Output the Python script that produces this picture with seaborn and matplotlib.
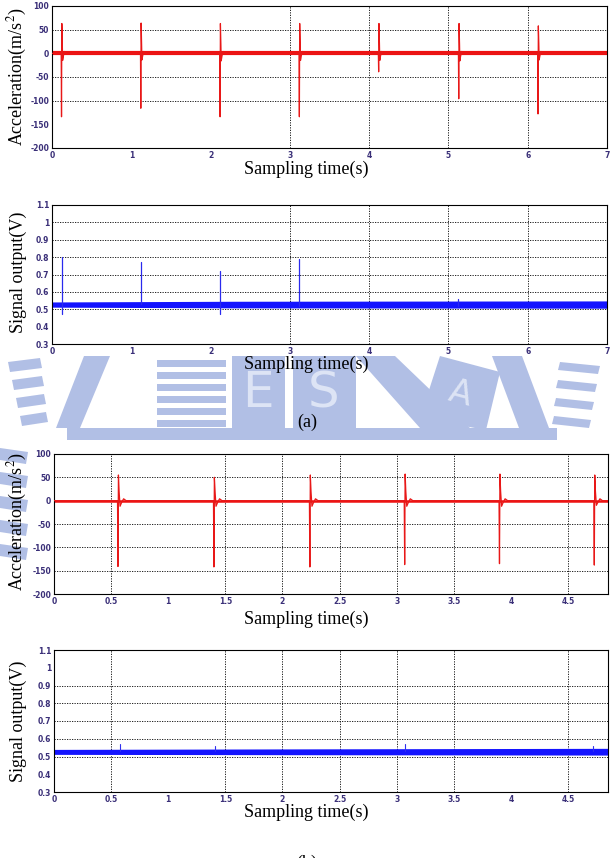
import numpy as np
import pandas as pd
import matplotlib
matplotlib.use("Agg")
import matplotlib.pyplot as plt
import seaborn as sns
from matplotlib.patches import Polygon

sns.set_theme(style="white")
plt.rcParams["font.family"] = ["Liberation Serif", "DejaVu Serif"]
plt.rcParams["mathtext.fontset"] = "stix"

# ---------------- data ----------------
# (a) acceleration: impact times (s), positive / negative peaks, after-dip (m/s^2)
acc_a_times = [0.12, 1.12, 2.12, 3.12, 4.12, 5.13, 6.13]
acc_a_pos = [63, 64, 63, 63, 63, 63, 58]
acc_a_neg = [-134, -116, -134, -134, -39, -96, -128]
acc_a_dip = [-15, -14, -16, -15, -15, -16, -14]

# (a) signal output: spike times, peaks and dips (V), noise band limits
sig_a_times = [0.12, 1.12, 2.12, 3.12, 5.12]
sig_a_peak = [0.80, 0.77, 0.72, 0.79, 0.56]
sig_a_dip = [0.475, 0.53, 0.475, 0.52, 0.52]
sig_a_band_t = [0.0, 2.3, 7.0]
sig_a_band_lo = [0.512, 0.508, 0.506]
sig_a_band_hi = [0.542, 0.546, 0.548]

# (b) acceleration
acc_b_times = [0.56, 1.40, 2.24, 3.07, 3.90, 4.73]
acc_b_pos = [55, 50, 55, 57, 57, 55]
acc_b_neg = [-141, -142, -142, -137, -135, -138]
acc_b_dip = [-12, -12, -12, -12, -12, -10]

# (b) signal output
sig_b_times = [0.58, 1.41, 3.07, 4.72]
sig_b_peak = [0.57, 0.56, 0.57, 0.56]
sig_b_band_t = [0.0, 2.2, 4.85]
sig_b_band_lo = [0.512, 0.510, 0.508]
sig_b_band_hi = [0.540, 0.543, 0.546]

# axis ticks
xticks_a = [0, 1, 2, 3, 4, 5, 6, 7]
xticks_b = [0, 0.5, 1, 1.5, 2, 2.5, 3, 3.5, 4, 4.5]
yticks_acc = [100, 50, 0, -50, -100, -150, -200]
yticks_sig = [1.1, 1.0, 0.9, 0.8, 0.7, 0.6, 0.5, 0.4, 0.3]
xlim_a = (0, 7)
xlim_b = (0, 4.85)

# ---------------- figure ----------------
W, H = 615, 858
fig = plt.figure(figsize=(W / 100, H / 100), dpi=100)
fig.patch.set_facecolor("white")

wm = "#b1bfe5"


def px(x, y):
    return (x / W, 1 - y / H)


def poly(pts, color=wm, z=0):
    fig.patches.append(Polygon([px(x, y) for x, y in pts], closed=True,
                               transform=fig.transFigure, facecolor=color,
                               edgecolor="none", zorder=z))


# faint background watermark (approximate)
poly([(67, 428), (557, 428), (557, 440), (67, 440)])
poly([(84, 356), (110, 356), (80, 428), (56, 428)])
for i in range(4):
    y0 = 362 + i * 18
    poly([(8 + i * 4, y0), (40 + i * 2, y0 - 4), (42 + i * 2, y0 + 6), (10 + i * 4, y0 + 10)])
for i in range(6):
    y0 = 360 + i * 12
    poly([(157, y0), (226, y0), (226, y0 + 7), (157, y0 + 7)])
poly([(232, 356), (285, 356), (285, 428), (232, 428)])
poly([(293, 356), (356, 356), (356, 428), (293, 428)])
poly([(356, 356), (395, 356), (470, 428), (420, 428)])
poly([(440, 356), (500, 372), (486, 430), (420, 418)])
poly([(492, 356), (522, 356), (549, 428), (519, 428)])
for i in range(4):
    y0 = 362 + i * 18
    poly([(560 - i * 2, y0), (600 - i * 3, y0 + 4), (598 - i * 3, y0 + 12), (558 - i * 2, y0 + 8)])
for i in range(5):
    y0 = 448 + i * 24
    poly([(0, y0), (28, y0 + 4), (26, y0 + 16), (0, y0 + 12)])
fig.text(258 / W, 1 - 393 / H, "E", color="#dde4f5", fontsize=36, family="DejaVu Sans",
         ha="center", va="center", zorder=1)
fig.text(324 / W, 1 - 393 / H, "S", color="#dde4f5", fontsize=36, family="DejaVu Sans",
         ha="center", va="center", zorder=1)
fig.text(460 / W, 1 - 394 / H, "A", color="#dde4f5", fontsize=24, family="DejaVu Sans",
         ha="center", va="center", rotation=-15, zorder=1)


def add_ax(left, top, right, bottom):
    ax = fig.add_axes([left / W, 1 - bottom / H, (right - left) / W, (bottom - top) / H])
    ax.set_facecolor("white")
    ax.set_zorder(2)
    return ax


def impact_frame(times, pos, neg, dip, xmax, width):
    t = [0.0]
    v = [0.0]
    for ti, p, n, d in zip(times, pos, neg, dip):
        t += [ti - 0.004, ti, ti + 0.004, ti + 0.010, ti + 0.014 * width,
              ti + 0.025 * width, ti + 0.038 * width, ti + 0.055 * width]
        v += [0.0, n, p, 20.0, d, d * 0.3, 4.0, 0.0]
    t.append(xmax)
    v.append(0.0)
    return pd.DataFrame({"t": t, "v": v})


def spike_frame(times, peak, dip):
    t, v, u = [], [], []
    for k, (ti, p, d) in enumerate(zip(times, peak, dip)):
        t += [ti, ti]
        v += [d, p]
        u += [k, k]
    return pd.DataFrame({"t": t, "v": v, "spike": u})


def style(ax, xticks, yticks, xlim, ylim, xgrid, ygrid):
    ax.set_xlim(*xlim)
    ax.set_ylim(*ylim)
    ax.set_xticks(xticks)
    ax.set_yticks(yticks)
    ax.set_xticklabels([f"{x:g}" for x in xticks])
    ax.set_yticklabels([f"{y:g}" for y in yticks])
    ax.tick_params(axis="both", labelsize=5.5, labelcolor="#3a2f78", direction="in",
                   length=2, width=0.6, color="black", pad=2)
    for lab in ax.get_xticklabels() + ax.get_yticklabels():
        lab.set_family("DejaVu Sans")
        lab.set_weight("bold")
    for s in ax.spines.values():
        s.set_color("black")
        s.set_linewidth(0.8)
    for xv in xgrid:
        ax.axvline(xv, color="black", ls=(0, (1.5, 1.5)), lw=0.6, zorder=0.5)
    for yv in ygrid:
        ax.axhline(yv, color="black", ls=(0, (1.5, 1.5)), lw=0.6, zorder=0.5)
    ax.set_xlabel("")
    ax.set_ylabel("")
    if ax.get_legend() is not None:
        ax.get_legend().remove()


# ---- panel 1: (a) acceleration
ax1 = add_ax(52, 6, 607, 148)
df = impact_frame(acc_a_times, acc_a_pos, acc_a_neg, acc_a_dip, xlim_a[1], 1.0)
sns.lineplot(data=pd.DataFrame({"t": list(xlim_a), "v": [0, 0]}), x="t", y="v",
             color="#ee1111", lw=3.0, ax=ax1, zorder=2)
sns.lineplot(data=df, x="t", y="v", sort=False, estimator=None, color="#e81818",
             lw=0.9, ax=ax1, zorder=3)
style(ax1, xticks_a, yticks_acc, xlim_a, (-200, 100), [3, 4, 5, 6], [50, -50, -100])

# ---- panel 2: (a) signal output
ax2 = add_ax(52, 205, 607, 344)
ax2.fill_between(sig_a_band_t, sig_a_band_lo, sig_a_band_hi, color="#1414ff", lw=0, zorder=2)
sns.lineplot(data=spike_frame(sig_a_times, sig_a_peak, sig_a_dip), x="t", y="v",
             units="spike", estimator=None, sort=False, color="#2a2aee", lw=0.9,
             ax=ax2, zorder=3)
style(ax2, xticks_a, yticks_sig, xlim_a, (0.3, 1.1), [3, 4, 5, 6],
      [1.0, 0.9, 0.8, 0.7, 0.6, 0.5])

# ---- panel 3: (b) acceleration
ax3 = add_ax(54, 454, 608, 594)
df = impact_frame(acc_b_times, acc_b_pos, acc_b_neg, acc_b_dip, xlim_b[1], 1.3)
sns.lineplot(data=pd.DataFrame({"t": list(xlim_b), "v": [0, 0]}), x="t", y="v",
             color="#ee1111", lw=1.8, ax=ax3, zorder=2)
sns.lineplot(data=df, x="t", y="v", sort=False, estimator=None, color="#e81818",
             lw=0.9, ax=ax3, zorder=3)
style(ax3, xticks_b, yticks_acc, xlim_b, (-200, 100),
      [0.5, 1.5, 2, 2.5, 3, 3.5, 4.5], [50, -50, -100, -150])

# ---- panel 4: (b) signal output
ax4 = add_ax(54, 650, 608, 792)
ax4.fill_between(sig_b_band_t, sig_b_band_lo, sig_b_band_hi, color="#1414ff", lw=0, zorder=2)
sns.lineplot(data=spike_frame(sig_b_times, sig_b_peak, [0.53] * len(sig_b_times)),
             x="t", y="v", units="spike", estimator=None, sort=False, color="#3030ee",
             lw=0.8, ax=ax4, zorder=3)
style(ax4, xticks_b, yticks_sig, xlim_b, (0.3, 1.1),
      [0.5, 1.5, 2, 2.5, 3, 3.5, 4.5], [0.9, 0.8, 0.7, 0.6, 0.5])

# ---- texts
lab_kw = dict(fontsize=13, color="black", ha="center", va="center")
fig.text(306 / W, 1 - 169 / H, "Sampling time(s)", **lab_kw)
fig.text(306 / W, 1 - 364 / H, "Sampling time(s)", zorder=3, **lab_kw)
fig.text(306 / W, 1 - 619 / H, "Sampling time(s)", **lab_kw)
fig.text(306 / W, 1 - 812 / H, "Sampling time(s)", **lab_kw)
fig.text(17 / W, 1 - 77 / H, "Acceleration(m/s$^2$)", rotation=90, **lab_kw)
fig.text(18 / W, 1 - 272 / H, "Signal output(V)", rotation=90, **lab_kw)
fig.text(17 / W, 1 - 522 / H, "Acceleration(m/s$^2$)", rotation=90, zorder=3, **lab_kw)
fig.text(18 / W, 1 - 721 / H, "Signal output(V)", rotation=90, **lab_kw)
fig.text(307 / W, 1 - 422 / H, "(a)", zorder=3, **lab_kw)
fig.text(307 / W, 1 - 863 / H, "(b)", **lab_kw)

fig.savefig("out.png", dpi=100, facecolor="white")
